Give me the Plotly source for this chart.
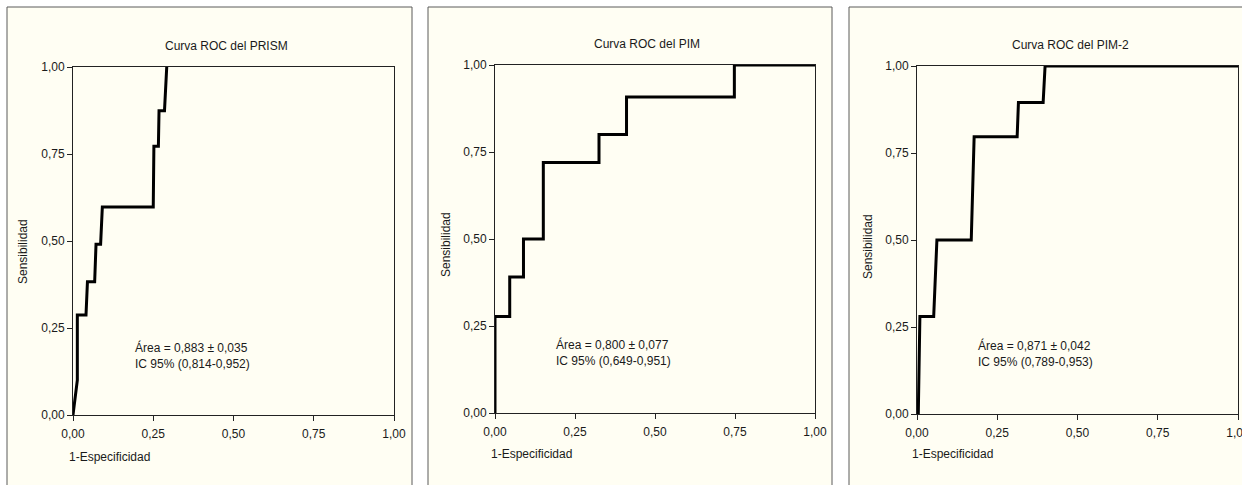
import plotly.graph_objects as go

W, H = 1242, 485

# ---- data ----
prism_x = [0, 0.012, 0.0135, 0.0135, 0.0405, 0.045, 0.0675, 0.0717, 0.086, 0.0914, 0.250, 0.252, 0.266, 0.268, 0.285, 0.292]
prism_y = [0, 0.09, 0.10, 0.287, 0.287, 0.383, 0.383, 0.491, 0.491, 0.598, 0.598, 0.772, 0.772, 0.874, 0.874, 1.0]

pim_x = [0, 0, 0.046, 0.046, 0.089, 0.089, 0.151, 0.151, 0.325, 0.325, 0.411, 0.411, 0.748, 0.748, 1.0]
pim_y = [0, 0.277, 0.277, 0.391, 0.391, 0.50, 0.50, 0.72, 0.72, 0.80, 0.80, 0.908, 0.908, 1.0, 1.0]

pim2_x = [0.004, 0.009, 0.052, 0.062, 0.169, 0.178, 0.312, 0.316, 0.393, 0.399, 1.0]
pim2_y = [0, 0.28, 0.28, 0.50, 0.50, 0.797, 0.797, 0.895, 0.895, 1.0, 1.0]

titles = ["Curva ROC del PRISM", "Curva ROC del PIM", "Curva ROC del PIM-2"]
area_text = ["Área = 0,883 ± 0,035", "Área = 0,800 ± 0,077", "Área = 0,871 ± 0,042"]
ci_text = ["IC 95% (0,814-0,952)", "IC 95% (0,649-0,951)", "IC 95% (0,789-0,953)"]
tick_vals = [0, 0.25, 0.5, 0.75, 1.0]
y_label = "Sensibilidad"
x_label = "1-Especificidad"

series = [(prism_x, prism_y), (pim_x, pim_y), (pim2_x, pim2_y)]

# ---- layout geometry (pixels) ----
plot_boxes = [(73, 394, 67, 415), (495, 815, 65, 413), (917, 1238, 66, 414)]
frames = [(7, 412), (428, 832), (849, 1270)]
frame_top = 7
title_pos = [(226, 46), (647, 43.5), (1070, 44.5)]
ylab_pos = [(23, 252), (446, 245), (868, 247)]
xlab_pos = [(109, 457), (531, 454), (952, 454)]
note_pos = [(0.186, 0.172), (0.184, 0.175), (0.185, 0.174)]

CREAM = "#FFFEF3"
TXT = "#1a1a1a"
FONT = "Arial, Liberation Sans, Helvetica, sans-serif"

def px(x):
    return x / W

def py(y):
    return 1 - y / H

fig = go.Figure()
shapes = []
annotations = []
layout = dict(
    width=W, height=H,
    autosize=False,
    margin=dict(l=0, r=0, t=0, b=0, pad=0),
    paper_bgcolor="white",
    plot_bgcolor=CREAM,
    separators=",.",
    showlegend=False,
    font=dict(family=FONT, size=12, color=TXT),
)

for i, (sx, sy) in enumerate(series):
    n = "" if i == 0 else str(i + 1)
    x0, x1, y0, y1 = plot_boxes[i]
    fig.add_trace(go.Scatter(
        x=sx, y=sy, mode="lines",
        line=dict(color="black", width=3),
        xaxis="x" + n, yaxis="y" + n,
        cliponaxis=False, hoverinfo="skip",
    ))
    axis_common = dict(
        range=[0, 1], tickvals=tick_vals, tickformat=".2f",
        ticks="outside", ticklen=5, tickwidth=1, tickcolor="#222",
        showline=True, linecolor="#222", linewidth=1, mirror=True,
        showgrid=False, zeroline=False, fixedrange=True,
        automargin=False, ticklabeloverflow="allow",
        tickfont=dict(family=FONT, size=12, color=TXT),
        layer="below traces",
    )
    layout["xaxis" + n] = dict(axis_common, domain=[px(x0), px(x1)],
                               anchor="y" + n, ticklabelstandoff=3)
    layout["yaxis" + n] = dict(axis_common, domain=[py(y1), py(y0)],
                               anchor="x" + n)

    fx0, fx1 = frames[i]
    shapes.append(dict(type="rect", xref="paper", yref="paper",
                       x0=px(fx0), x1=px(fx1), y0=-0.1, y1=py(frame_top),
                       fillcolor=CREAM, line=dict(color="#5a5a5a", width=1),
                       layer="below"))

    tx, ty = title_pos[i]
    annotations.append(dict(text=titles[i], xref="paper", yref="paper",
                            x=px(tx), y=py(ty), xanchor="center", yanchor="middle",
                            showarrow=False, font=dict(size=12, color=TXT)))
    lx, ly = ylab_pos[i]
    annotations.append(dict(text=y_label, xref="paper", yref="paper",
                            x=px(lx), y=py(ly), xanchor="center", yanchor="middle",
                            textangle=-90, showarrow=False, font=dict(size=12, color=TXT)))
    xx, xy = xlab_pos[i]
    annotations.append(dict(text=x_label, xref="paper", yref="paper",
                            x=px(xx), y=py(xy), xanchor="center", yanchor="middle",
                            showarrow=False, font=dict(size=12, color=TXT)))
    nx, ny = note_pos[i]
    annotations.append(dict(text=area_text[i] + "<br>" + ci_text[i],
                            xref="x" + n, yref="y" + n, x=nx, y=ny,
                            xanchor="left", yanchor="middle", align="left",
                            showarrow=False, font=dict(size=12, color=TXT)))

layout["shapes"] = shapes
layout["annotations"] = annotations
fig.update_layout(**layout)
fig.write_html(
    "out.html",
    config={"displayModeBar": False, "staticPlot": True},
    post_script="document.body.style.margin='0';document.body.style.overflow='hidden';",
)
